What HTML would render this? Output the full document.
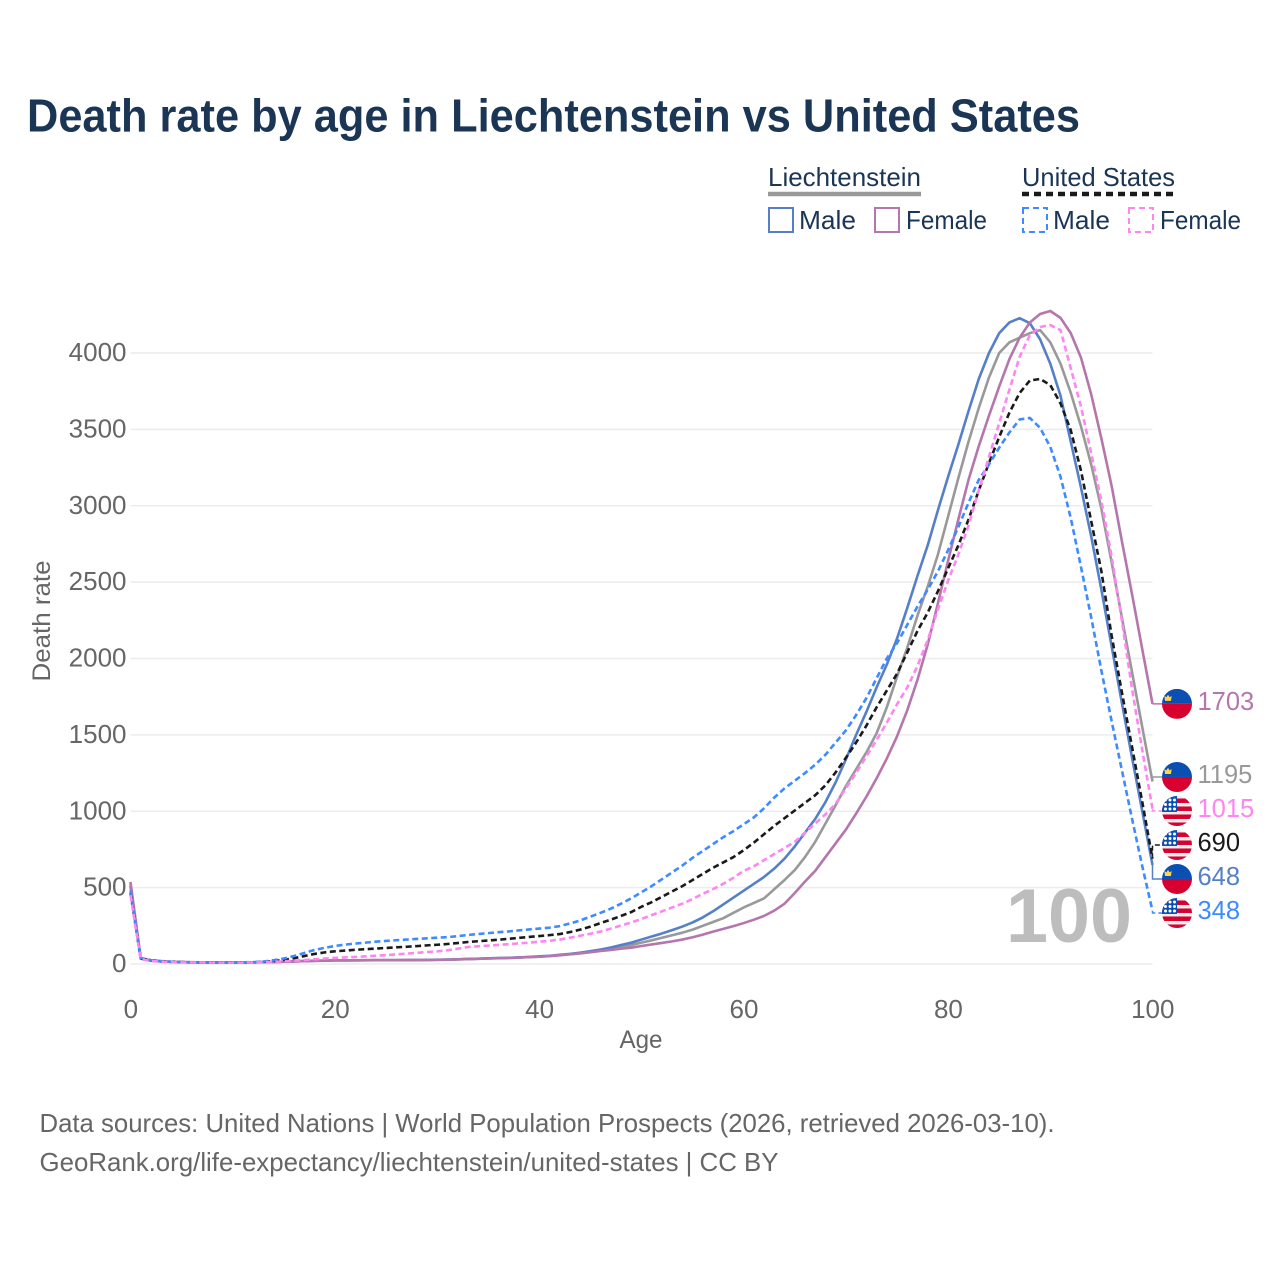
<!DOCTYPE html>
<html lang="en">
<head>
<meta charset="utf-8">
<title>Death rate by age in Liechtenstein vs United States</title>
<style>
html,body{margin:0;padding:0;background:#fff;width:1280px;height:1280px;overflow:hidden}
svg{display:block}
text{font-family:"Liberation Sans",sans-serif}
</style>
</head>
<body>
<svg id="chart" xmlns="http://www.w3.org/2000/svg" width="1280" height="1280" viewBox="0 0 1280 1280">
  <rect width="1280" height="1280" fill="#fff"/>
  <text x="27" y="131.5" font-size="46" font-weight="700" fill="#1b3555" textLength="1053" lengthAdjust="spacingAndGlyphs">Death rate by age in Liechtenstein vs United States</text>

  <g font-size="26" fill="#1b3555">
    <text x="768" y="186" textLength="153" lengthAdjust="spacingAndGlyphs">Liechtenstein</text>
    <line x1="768" x2="921" y1="194" y2="194" stroke="#999" stroke-width="4.5"/>
    <text x="1022" y="186" textLength="153" lengthAdjust="spacingAndGlyphs">United States</text>
    <line x1="1022" x2="1175" y1="194" y2="194" stroke="#1a1a1a" stroke-width="4.5" stroke-dasharray="7 5"/>

    <rect x="769" y="208" width="24" height="24" fill="none" stroke="#5580c8" stroke-width="2"/>
    <text x="799" y="229" textLength="57" lengthAdjust="spacingAndGlyphs">Male</text>
    <rect x="875" y="208" width="24" height="24" fill="none" stroke="#b576ad" stroke-width="2"/>
    <text x="906" y="229" textLength="81" lengthAdjust="spacingAndGlyphs">Female</text>
    <rect x="1023" y="208" width="24" height="24" fill="none" stroke="#3d8bff" stroke-width="2" stroke-dasharray="6 4"/>
    <text x="1053" y="229" textLength="57" lengthAdjust="spacingAndGlyphs">Male</text>
    <rect x="1129" y="208" width="24" height="24" fill="none" stroke="#ff85f2" stroke-width="2" stroke-dasharray="6 4"/>
    <text x="1160" y="229" textLength="81" lengthAdjust="spacingAndGlyphs">Female</text>
  </g>

  <g id="grid"></g>
  <g id="xaxis"></g>
  <g id="yaxis"></g>
  <text x="641" y="1048" font-size="25" fill="#666" text-anchor="middle" textLength="43" lengthAdjust="spacingAndGlyphs">Age</text>
  <text transform="translate(50,621) rotate(-90)" font-size="25" fill="#666" text-anchor="middle" textLength="121" lengthAdjust="spacingAndGlyphs">Death rate</text>
  <text id="age-stamp" x="1132" y="942" font-size="76" font-weight="700" fill="#bdbdbd" text-anchor="end" textLength="126" lengthAdjust="spacingAndGlyphs"></text>
  <g id="connectors"></g>
  <g id="series"></g>
  <g id="labels"></g>

  <text x="39.5" y="1132" font-size="26" fill="#666" textLength="1015" lengthAdjust="spacingAndGlyphs">Data sources: United Nations | World Population Prospects (2026, retrieved 2026-03-10).</text>
  <text x="39.5" y="1171" font-size="26" fill="#666" textLength="739" lengthAdjust="spacingAndGlyphs">GeoRank.org/life-expectancy/liechtenstein/united-states | CC BY</text>
</svg>

<script>
const xTickLabels = [0, 20, 40, 60, 80, 100];
const yTickLabels = [0, 500, 1000, 1500, 2000, 2500, 3000, 3500, 4000];
const ageStamp = 100;

const liechtensteinBoth = [525,35,22,17,14,12,11,10,10,10,10,10,11,12,13,15,17,19,21,22,24,24,24,25,25,25,25,26,26,26,27,28,30,32,34,36,38,40,42,45,48,52,58,64,70,78,88,98,110,124,140,155,172,188,205,225,250,275,300,335,370,400,430,490,550,615,700,800,920,1040,1165,1275,1385,1510,1680,1880,2070,2280,2470,2680,2930,3180,3420,3640,3840,4000,4070,4100,4130,4150,4070,3930,3740,3520,3270,2980,2630,2270,1910,1550,1195];
const liechtensteinMale = [510,35,22,17,14,12,11,10,10,10,10,10,11,12,13,15,17,19,21,22,23,23,24,24,25,25,25,26,26,27,28,29,31,33,35,37,39,41,43,46,50,54,60,66,74,84,95,108,124,140,160,180,200,222,245,272,305,345,390,435,480,525,570,625,690,770,860,950,1060,1190,1340,1500,1650,1810,1960,2130,2330,2540,2740,2970,3190,3400,3620,3830,4000,4130,4200,4228,4195,4090,3930,3720,3420,3120,2800,2450,2080,1710,1350,1000,648];
const liechtensteinFemale = [537,38,25,19,15,13,12,11,10,10,10,10,11,12,13,15,17,19,21,23,24,24,24,25,25,25,25,26,26,26,27,28,30,32,34,36,38,40,42,45,48,52,57,63,70,77,85,92,100,107,118,128,138,148,160,175,192,212,230,248,268,290,315,350,395,465,540,610,700,790,880,985,1095,1215,1345,1490,1660,1860,2090,2360,2640,2910,3170,3390,3590,3780,3960,4100,4200,4255,4275,4230,4130,3970,3730,3440,3130,2770,2420,2060,1703];
const unitedStatesBoth = [465,36,23,17,14,12,11,10,10,10,10,10,11,14,19,27,38,52,66,76,83,88,93,97,101,105,109,113,117,122,126,131,137,144,149,154,159,165,171,177,183,189,196,209,225,245,268,290,315,340,375,405,440,475,510,550,590,630,665,700,745,795,850,905,955,1005,1055,1105,1170,1255,1350,1450,1560,1680,1790,1900,2040,2180,2300,2440,2590,2740,2910,3100,3280,3450,3610,3738,3820,3830,3790,3670,3495,3230,2900,2570,2150,1780,1420,1060,690];
const unitedStatesMale = [480,40,25,18,14,12,11,10,10,10,10,11,12,16,25,36,52,72,92,106,118,127,134,140,146,151,156,160,164,168,172,176,182,190,196,202,208,213,220,226,232,238,248,265,285,310,335,362,395,430,470,510,555,600,645,695,740,785,830,870,915,960,1020,1090,1150,1200,1250,1305,1370,1450,1530,1630,1740,1870,2000,2100,2220,2340,2450,2570,2710,2860,3020,3170,3270,3380,3480,3565,3575,3510,3385,3190,2920,2600,2270,1920,1590,1270,950,640,348];
const unitedStatesFemale = [450,32,20,15,12,11,10,10,9,9,9,9,10,12,14,17,21,26,31,36,40,43,46,50,54,58,63,68,73,78,83,90,100,111,116,120,125,130,135,140,146,152,160,172,185,198,212,232,252,272,295,320,345,370,395,425,460,490,525,565,610,640,680,720,760,800,860,920,980,1050,1150,1250,1360,1466,1580,1700,1810,1950,2120,2320,2510,2680,2870,3100,3320,3540,3760,3975,4117,4170,4183,4150,3900,3650,3345,3030,2670,2250,1800,1400,1015];

const seriesList = [
  { key: 'liechtenstein-both', values: liechtensteinBoth, color: '#999999', dash: '', flag: 'li' },
  { key: 'liechtenstein-male', values: liechtensteinMale, color: '#5580c8', dash: '', flag: 'li' },
  { key: 'liechtenstein-female', values: liechtensteinFemale, color: '#b576ad', dash: '', flag: 'li' },
  { key: 'united-states-both', values: unitedStatesBoth, color: '#1a1a1a', dash: '6 3.5', flag: 'us' },
  { key: 'united-states-male', values: unitedStatesMale, color: '#3d8bff', dash: '6 3.5', flag: 'us' },
  { key: 'united-states-female', values: unitedStatesFemale, color: '#ff85f2', dash: '6 3.5', flag: 'us' }
];

const NS = 'http://www.w3.org/2000/svg';
const xLeft = 130.5, xRight = 1152.5, yZero = 964, yTop = 353;
const xScale = function (age) { return xLeft + (xRight - xLeft) * age / 100; };
const yScale = function (v) { return yZero - (yZero - yTop) * v / 4000; };

function make(tag, attrs, parent) {
  const el = document.createElementNS(NS, tag);
  for (const k in attrs) el.setAttribute(k, attrs[k]);
  parent.appendChild(el);
  return el;
}

const gridG = document.getElementById('grid');
const xAxisG = document.getElementById('xaxis');
const yAxisG = document.getElementById('yaxis');
const seriesG = document.getElementById('series');
const connectorsG = document.getElementById('connectors');
const labelsG = document.getElementById('labels');

yTickLabels.forEach(function (t) {
  const line = make('line', { x1: xLeft, x2: xRight, y1: yScale(t), y2: yScale(t), stroke: '#ececec', 'stroke-width': 1.5 }, gridG);
  
  
  const label = make('text', { x: 126.5, y: yScale(t) + 8, 'font-size': 26, fill: '#666', 'text-anchor': 'end' }, yAxisG);
  
  
  label.textContent = t;
});

xTickLabels.forEach(function (t) {
  const label = make('text', { x: xScale(t) + 0.3, y: 1018, 'font-size': 26, fill: '#666', 'text-anchor': 'middle' }, xAxisG);
  
  
  label.textContent = t;
});

document.getElementById('age-stamp').textContent = ageStamp;

seriesList.forEach(function (s) {
  const d = s.values.map(function (v, age) {
    return (age ? 'L' : 'M') + xScale(age).toFixed(2) + ' ' + yScale(v).toFixed(2);
  }).join(' ');
  const path = make('path', { d: d, fill: 'none', stroke: s.color, 'stroke-width': 2.6, 'stroke-linejoin': 'round' }, seriesG);
  if (s.dash) path.setAttribute('stroke-dasharray', s.dash);
  
  
});

/* Dodge the end labels: overlapping labels merge into clusters centred on their data positions. */
const labelGap = 34;
const ordered = seriesList.map(function (s) {
  return { s: s, target: yScale(s.values[s.values.length - 1]) };
}).sort(function (a, b) { return a.target - b.target; });

let clusters = ordered.map(function (o) { return { items: [o], sum: o.target }; });
let merged = true;
while (merged) {
  merged = false;
  for (let i = 0; i < clusters.length - 1; i++) {
    const a = clusters[i], b = clusters[i + 1];
    const aMid = a.sum / a.items.length, bMid = b.sum / b.items.length;
    const aEnd = aMid + (a.items.length - 1) * labelGap / 2;
    const bStart = bMid - (b.items.length - 1) * labelGap / 2;
    if (bStart - aEnd < labelGap) {
      clusters.splice(i, 2, { items: a.items.concat(b.items), sum: a.sum + b.sum });
      merged = true;
      break;
    }
  }
}
clusters.forEach(function (c) {
  const mid = c.sum / c.items.length;
  c.items.forEach(function (o, i) {
    o.labelY = mid + (i - (c.items.length - 1) / 2) * labelGap;
  });
});

function drawFlag(kind, cy, idx) {
  const cx = 1177, r = 15;
  const g = make('g', {}, labelsG);
  
  
  const clip = make('clipPath', { id: 'flag-clip-' + idx }, g);
  make('circle', { cx: cx, cy: cy, r: r }, clip);
  const inner = make('g', { 'clip-path': 'url(#flag-clip-' + idx + ')' }, g);
  if (kind === 'li') {
    make('rect', { x: cx - r, y: cy - r, width: 2 * r, height: r, fill: '#0b4fb3' }, inner);
    make('rect', { x: cx - r, y: cy, width: 2 * r, height: r, fill: '#d8002e' }, inner);
    make('path', { d: 'M' + (cx - 12) + ' ' + (cy - 3) + 'l-0.6 -5 2 1.4 1.6 -2.6 1.6 2.6 2 -1.4 -0.6 5z', fill: '#ffd54a' }, inner);
  } else {
    make('rect', { x: cx - r, y: cy - r, width: 2 * r, height: 2 * r, fill: '#eeeeee' }, inner);
    for (let i = 0; i < 4; i++) {
      make('rect', { x: cx - r, y: cy - 12.5 + i * 8, width: 2 * r, height: 4.5, fill: '#d8002e' }, inner);
    }
    make('rect', { x: cx - r, y: cy - r, width: r, height: r + 1, fill: '#0b4fb3' }, inner);
    for (let row = 0; row < 3; row++) {
      for (let col = 0; col < 3; col++) {
        make('circle', { cx: cx - 11.5 + col * 4.5, cy: cy - 11 + row * 4.5, r: 1.5, fill: '#fff' }, inner);
      }
    }
  }
}

ordered.forEach(function (o, idx) {
  const s = o.s;
  const conn = make('path', {
    d: 'M' + xRight + ' ' + o.target.toFixed(2) + ' L' + xRight + ' ' + o.labelY.toFixed(2) + ' L1163 ' + o.labelY.toFixed(2),
    fill: 'none', stroke: s.color, 'stroke-width': 1.5
  }, connectorsG);
  if (s.dash) conn.setAttribute('stroke-dasharray', '5 3');
  
  

  drawFlag(s.flag, o.labelY, idx);

  const label = make('text', { x: 1197.5, y: o.labelY + 6, 'font-size': 25.5, fill: s.color }, labelsG);
  
  
  label.textContent = s.values[s.values.length - 1];
});
</script>
</body>
</html>
